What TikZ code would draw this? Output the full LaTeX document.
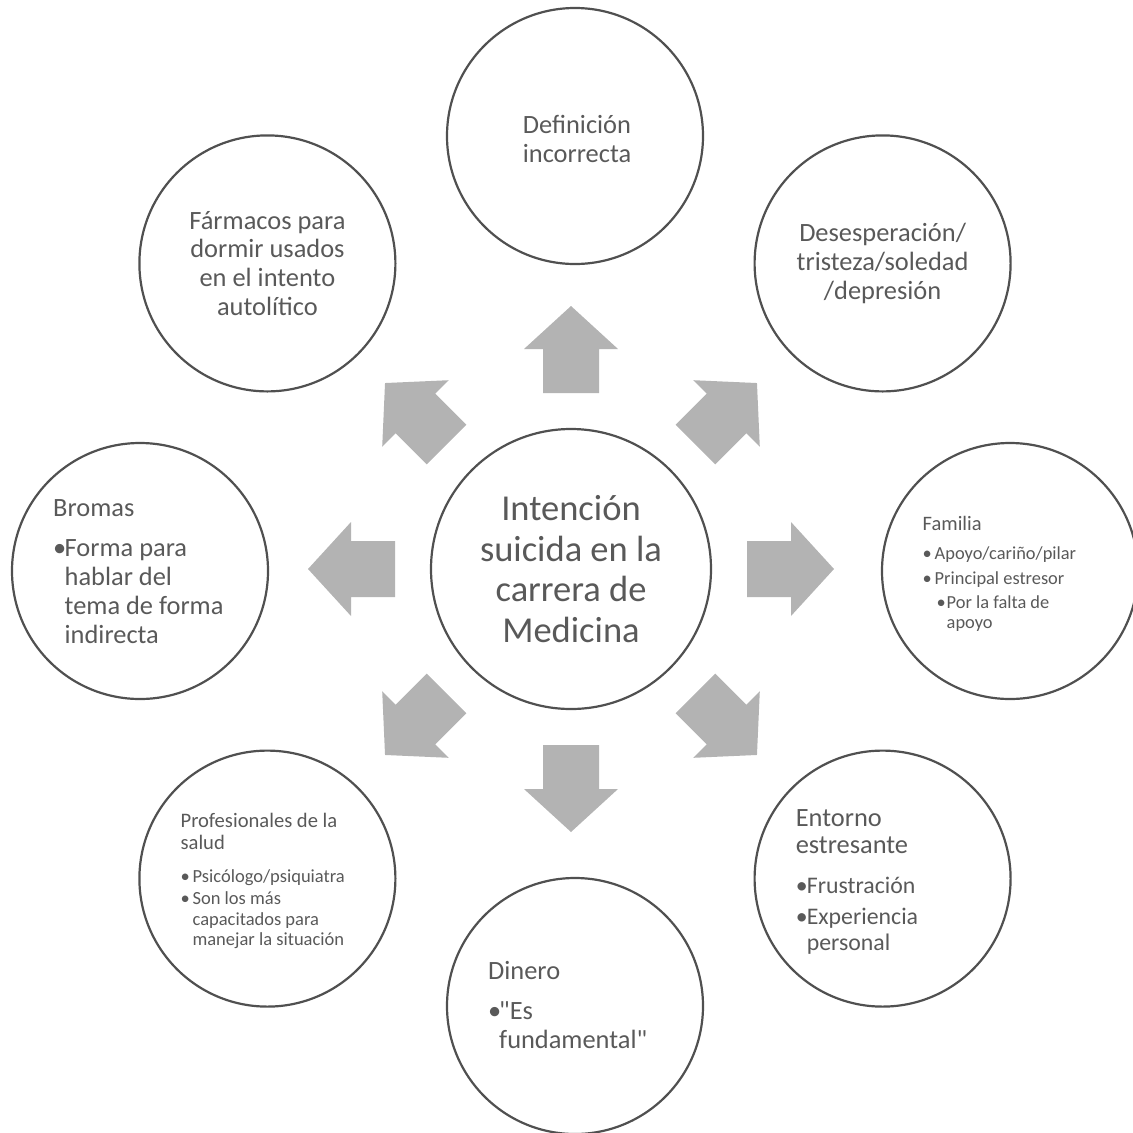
\documentclass[tikz,border=0pt]{standalone}
\usepackage{fontspec}
\setmainfont{Carlito}[Ligatures=TeXOff]
\definecolor{txt}{HTML}{595959}
\definecolor{ringc}{HTML}{505050}
\definecolor{arrc}{HTML}{B3B3B3}
\newcommand\tline[4]{\par\fontsize{#2}{#1}\selectfont\noindent\hspace*{#3}#4\par}
\newcommand\tbul[5]{\par\fontsize{#2}{#1}\selectfont\noindent\hspace*{#3}\makebox[#4][l]{\textbullet}#5\par}
\newcommand\tblock[1]{\vtop{\hsize=230pt\parindent=0pt\parskip=0pt\lineskiplimit=-20pt\relax #1}}
\tikzset{
  ring/.style={circle, draw=ringc, line width=2.2pt, minimum size=256pt, inner sep=0pt, text=txt, align=center},
  midtext/.style={font=\fontsize{26.4}{28.8}\selectfont},
  listtext/.style={anchor=base west, inner sep=0pt, text=txt},
  blockarrow/.style={fill=arrc, draw=none},
}
\begin{document}
\begin{tikzpicture}[x=1pt, y=-1pt]
\useasboundingbox (0,0) rectangle (1133,1133);

% centre
\node[ring, minimum size=280pt, font=\fontsize{36.5}{40.7}\selectfont] (core) at (571,569)
  {Intención\\suicida en la\\carrera de\\Medicina};

% block arrows
\foreach \ang in {0,45,...,315}{
  \fill[blockarrow, shift={(core.center)}, rotate=\ang]
    (176,-28) -- (220,-28) -- (220,-47) -- (263,0) -- (220,47) -- (220,28) -- (176,28) -- cycle;
}

% outer circles
\node[ring] (defin) at (575,136) {};
\node[ring, midtext] (desesp) at (882.6,263.4) {Desesperación/\\tristeza/soledad\\/depresión};
\node[ring] (familia) at (1010,571) {};
\node[ring] (entorno) at (882.6,878.6) {};
\node[ring] (dinero) at (575,1006) {};
\node[ring] (profes) at (267.4,878.6) {};
\node[ring] (bromas) at (140,571) {};
\node[ring, midtext] (farmacos) at (267.4,263.4) {Fármacos para\\dormir usados\\en el intento\\autolítico};

\node[midtext, anchor=base, inner sep=0pt, text=txt, align=center] (defin-t) at (577,162)
  {Definición\\incorrecta};

% bulleted texts
\node[listtext] (bromas-t) at (53,516) {\tblock{%
  \tline{28}{26.4}{0pt}{Bromas}%
  \tbul{40}{26.4}{0pt}{11.5pt}{Forma para}%
  \tline{29}{26.4}{11.5pt}{hablar del}%
  \tline{29}{26.4}{11.5pt}{tema de forma}%
  \tline{29}{26.4}{11.5pt}{indirecta}}};

\node[listtext] (entorno-t) at (795.6,826) {\tblock{%
  \tline{28}{26.4}{0pt}{Entorno}%
  \tline{27}{26.4}{0pt}{estresante}%
  \tbul{40}{23.8}{0pt}{11pt}{Frustración}%
  \tbul{31}{23.8}{0pt}{11pt}{Experiencia}%
  \tline{26}{23.8}{11pt}{personal}}};

\node[listtext] (familia-t) at (922.5,530) {\tblock{%
  \tline{22}{20.5}{0pt}{Familia}%
  \tbul{29}{18.4}{0pt}{12pt}{Apoyo/cariño/pilar}%
  \tbul{25}{18.4}{0pt}{12pt}{Principal estresor}%
  \tbul{24.3}{18.4}{14pt}{10pt}{Por la falta de}%
  \tline{20}{18.4}{24pt}{apoyo}}};

\node[listtext] (profes-t) at (180.4,827) {\tblock{%
  \tline{22}{20.6}{0pt}{Profesionales de la}%
  \tline{22}{20.6}{0pt}{salud}%
  \tbul{33}{18.5}{0pt}{12pt}{Psicólogo/psiquiatra}%
  \tbul{22}{18.5}{0pt}{12pt}{Son los más}%
  \tline{21}{18.5}{12pt}{capacitados para}%
  \tline{20.5}{18.5}{12pt}{manejar la situación}}};

\node[listtext] (dinero-t) at (488,979) {\tblock{%
  \tline{28}{26.4}{0pt}{Dinero}%
  \tbul{40}{26.4}{0pt}{11pt}{"Es}%
  \tline{29}{26.4}{11pt}{fundamental"}}};
\end{tikzpicture}
\end{document}
